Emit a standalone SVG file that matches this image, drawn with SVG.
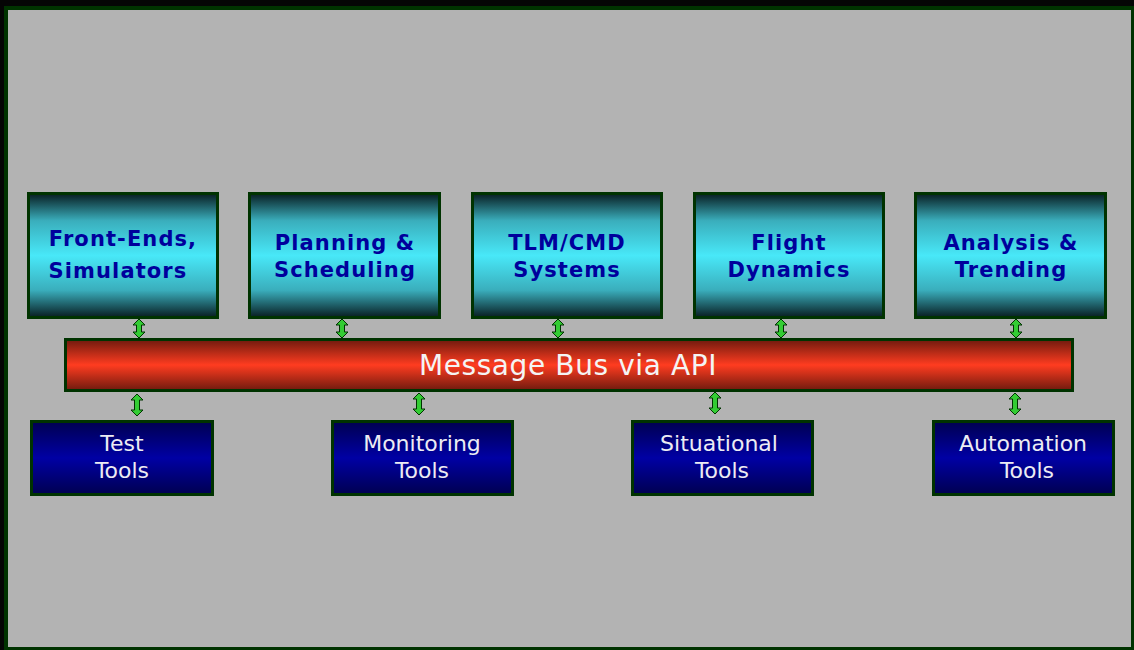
<svg xmlns="http://www.w3.org/2000/svg" width="1134" height="650" viewBox="0 0 1134 650">
  <defs>
    <linearGradient id="gCyan" x1="0" y1="0" x2="0" y2="1">
      <stop offset="0" stop-color="#081c20"/>
      <stop offset="0.22" stop-color="#3aaebc"/>
      <stop offset="0.5" stop-color="#48e8f8"/>
      <stop offset="0.78" stop-color="#3aaebc"/>
      <stop offset="1" stop-color="#081c20"/>
    </linearGradient>
    <linearGradient id="gRed" x1="0" y1="0" x2="0" y2="1">
      <stop offset="0" stop-color="#6e1a0e"/>
      <stop offset="0.5" stop-color="#ff3c20"/>
      <stop offset="1" stop-color="#6e1a0e"/>
    </linearGradient>
    <linearGradient id="gBlue" x1="0" y1="0" x2="0" y2="1">
      <stop offset="0" stop-color="#000050"/>
      <stop offset="0.5" stop-color="#0000a4"/>
      <stop offset="1" stop-color="#000050"/>
    </linearGradient>
    <path id="arrT" d="M0,0 L6,6 L2.5,6 L2.5,13 L6,13 L0,19 L-6,13 L-2.5,13 L-2.5,6 L-6,6 Z"/>
    <path id="arrB" d="M0,0 L6,6 L2.5,6 L2.5,16 L6,16 L0,22 L-6,16 L-2.5,16 L-2.5,6 L-6,6 Z"/>
  </defs>
  <style>
    .top rect { fill: url(#gCyan); stroke: #003300; stroke-width: 3; }
    .bot rect { fill: url(#gBlue); stroke: #003300; stroke-width: 3; }
    .top text { font-family: "DejaVu Sans", Verdana, sans-serif; font-weight: bold; font-size: 21px; fill: #00009c; text-anchor: middle; letter-spacing: 1.1px; }
    .bot text { font-family: "DejaVu Sans", Verdana, sans-serif; font-size: 22px; fill: #ececf4; text-anchor: middle; }
    .arrow { fill: #33cc33; stroke: #003300; stroke-width: 1; }
  </style>
  <rect x="0" y="0" width="1134" height="650" fill="#050505"/>
  <rect x="4" y="6" width="1130" height="644" fill="#003300"/>
  <rect x="8" y="10" width="1123" height="637" fill="#b3b3b3"/>

  <g id="front-ends" class="top">
    <rect x="28.5" y="193.5" width="189" height="124"/>
    <text x="123" y="246">Front-Ends,</text>
    <text x="118" y="278">Simulators</text>
  </g>
  <g id="planning" class="top">
    <rect x="249.5" y="193.5" width="190" height="124"/>
    <text x="345" y="250">Planning &amp;</text>
    <text x="345" y="277">Scheduling</text>
  </g>
  <g id="tlm-cmd" class="top">
    <rect x="472.5" y="193.5" width="189" height="124"/>
    <text x="567" y="250">TLM/CMD</text>
    <text x="567" y="277">Systems</text>
  </g>
  <g id="flight-dynamics" class="top">
    <rect x="694.5" y="193.5" width="189" height="124"/>
    <text x="789" y="250">Flight</text>
    <text x="789" y="277">Dynamics</text>
  </g>
  <g id="analysis" class="top">
    <rect x="915.5" y="193.5" width="190" height="124"/>
    <text x="1011" y="250">Analysis &amp;</text>
    <text x="1011" y="277">Trending</text>
  </g>

  <g id="message-bus">
    <rect x="65.5" y="339.5" width="1007" height="51" fill="url(#gRed)" stroke="#003300" stroke-width="3"/>
    <text x="568" y="375" font-family="DejaVu Sans, Verdana, sans-serif" font-size="28" letter-spacing="0.6" fill="#f4f4f4" text-anchor="middle">Message Bus via API</text>
  </g>

  <g id="test-tools" class="bot">
    <rect x="31.5" y="421.5" width="181" height="73"/>
    <text x="122" y="451">Test</text>
    <text x="122" y="478">Tools</text>
  </g>
  <g id="monitoring-tools" class="bot">
    <rect x="332.5" y="421.5" width="180" height="73"/>
    <text x="422" y="451">Monitoring</text>
    <text x="422" y="478">Tools</text>
  </g>
  <g id="situational-tools" class="bot">
    <rect x="632.5" y="421.5" width="180" height="73"/>
    <text x="719" y="451">Situational</text>
    <text x="722" y="478">Tools</text>
  </g>
  <g id="automation-tools" class="bot">
    <rect x="933.5" y="421.5" width="180" height="73"/>
    <text x="1023" y="451">Automation</text>
    <text x="1027" y="478">Tools</text>
  </g>

  <g id="connectors">
    <use href="#arrT" class="arrow" x="139" y="319"/>
    <use href="#arrT" class="arrow" x="342" y="319"/>
    <use href="#arrT" class="arrow" x="558" y="319"/>
    <use href="#arrT" class="arrow" x="781" y="319"/>
    <use href="#arrT" class="arrow" x="1016" y="319"/>
    <use href="#arrB" class="arrow" x="137" y="394"/>
    <use href="#arrB" class="arrow" x="419" y="393"/>
    <use href="#arrB" class="arrow" x="715" y="392"/>
    <use href="#arrB" class="arrow" x="1015" y="393"/>
  </g>
</svg>
